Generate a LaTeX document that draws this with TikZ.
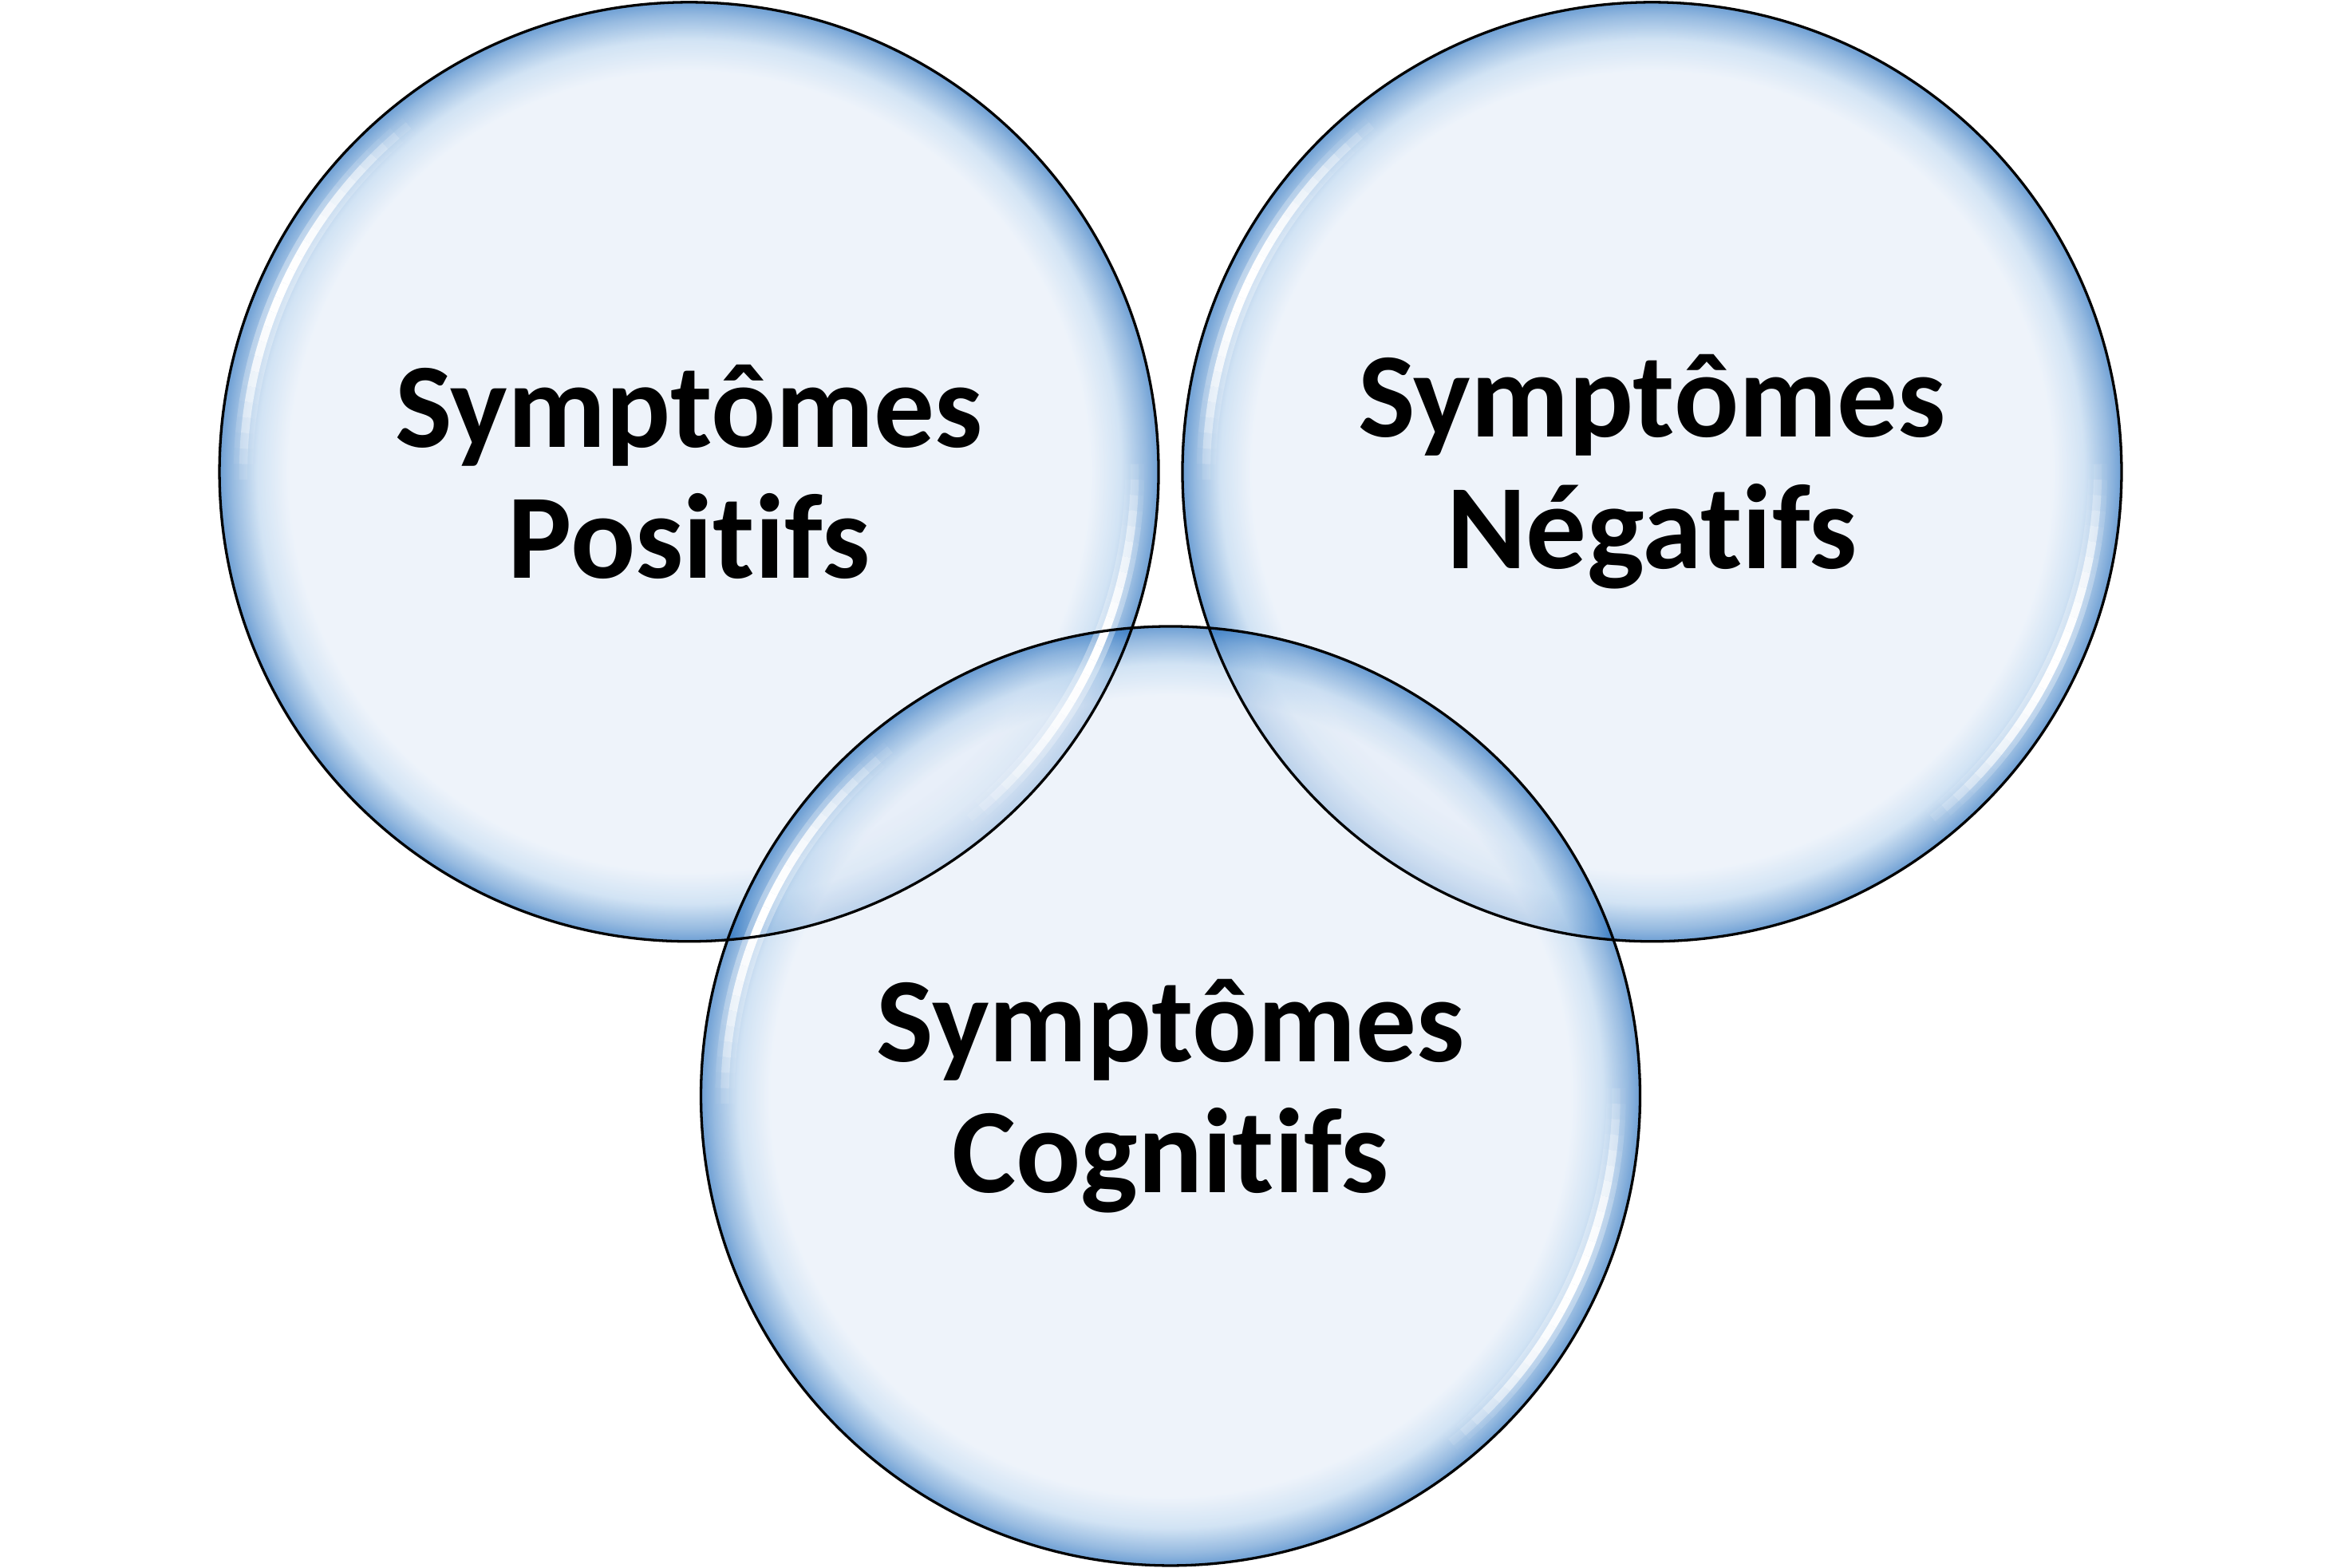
\documentclass[tikz,border=0pt]{standalone}
\usepackage{fontspec}
\setmainfont[Ligatures=NoCommon]{Carlito}
\usetikzlibrary{positioning,calc}
\definecolor{bubfill}{RGB}{229,237,248}
\definecolor{bubtint}{RGB}{185,212,238}
\definecolor{bubmid}{RGB}{95,150,208}
\definecolor{bubrim}{RGB}{32,108,189}
\pgfdeclareradialshading{bubble}{\pgfpointorigin}{color(0bp)=(bubfill); color(21.3bp)=(bubfill); color(23bp)=(bubtint); color(24.3bp)=(bubmid); color(25bp)=(bubrim); color(50bp)=(bubrim)}
\tikzset{
  bubble/.style={circle,shade,shading=bubble,fill opacity=0.65,text opacity=1,
    minimum size=62.9mm,inner sep=0pt,outer sep=0pt,align=center,
    font=\fontsize{23}{25}\selectfont\bfseries},
  bubline/.style={draw=black,line width=0.5pt},
  hilite/.style={draw=white,line width=0.55mm},
  higlow/.style={draw=white,line width=1.3mm},
}

\begin{document}
\begin{tikzpicture}
  \useasboundingbox (0,0) rectangle (15.68,10.50);
  \node[bubble] (pos) at (4.615,7.34) {Symptômes\\Positifs};
  \node[bubble,right=1.6mm of pos] (neg) {Symptômes\\Négatifs};
  \coordinate (mid) at ($(pos)!0.5!(neg)$);
  \node[bubble] (cog) at ([yshift=-41.8mm]mid) {Symptômes\\Cognitifs};
  % reflets blancs sur le bord
  \foreach \n in {pos,neg,cog}{
    \foreach \a [evaluate=\a as \op using {cos(3.4*(\a+1))}] in {-26,-24,...,24}{
      \draw[higlow,draw opacity=0.35*\op] (\n.center) ++({155+\a}:29.85mm)
        arc[start angle=155+\a,delta angle=2,radius=29.85mm];
      \draw[hilite,draw opacity=\op] (\n.center) ++({155+\a}:29.85mm)
        arc[start angle=155+\a,delta angle=2,radius=29.85mm];
      \draw[higlow,draw opacity=0.35*\op] (\n.center) ++({-25+\a}:29.85mm)
        arc[start angle=-25+\a,delta angle=2,radius=29.85mm];
      \draw[hilite,draw opacity=\op] (\n.center) ++({-25+\a}:29.85mm)
        arc[start angle=-25+\a,delta angle=2,radius=29.85mm];
    }
  }
  \foreach \n in {pos,neg,cog}
    \draw[bubline] (\n.center) circle[radius=31.45mm];
\end{tikzpicture}
\end{document}
